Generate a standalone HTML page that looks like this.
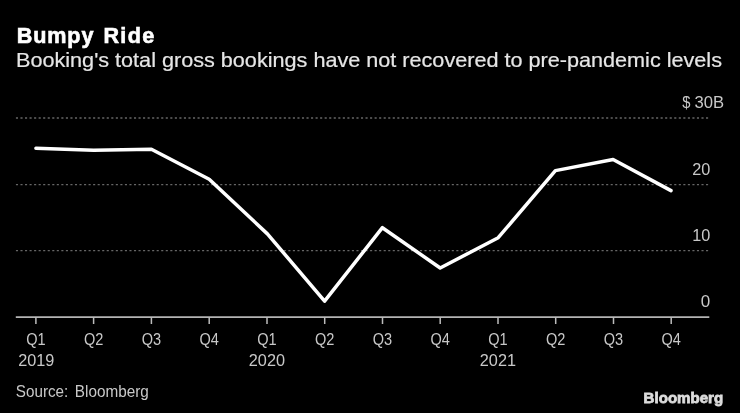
<!DOCTYPE html>
<html><head><meta charset="utf-8">
<style>
html,body{margin:0;padding:0;background:#000;width:740px;height:413px;overflow:hidden}
svg{display:block;will-change:transform}
text{font-family:"Liberation Sans",sans-serif}
</style></head>
<body>
<svg width="740" height="413" viewBox="0 0 740 413">
<rect width="740" height="413" fill="#000"/>
<g font-size="21.6" font-weight="bold" fill="#fff" stroke="#fff" stroke-width="0.6"><text x="16.8" y="42.7" textLength="76.6" lengthAdjust="spacing">Bumpy</text><text x="103.4" y="42.7" textLength="50.8" lengthAdjust="spacing">Ride</text></g>
<text x="16" y="66.9" font-size="20.4" fill="#e6e6e6" stroke="#e6e6e6" stroke-width="0.2" textLength="706" lengthAdjust="spacingAndGlyphs">Booking's total gross bookings have not recovered to pre-pandemic levels</text>
<g stroke="#666" stroke-width="1.4" stroke-dasharray="2.1 2.44">
<line x1="15.93" y1="118" x2="709.5" y2="118"/>
<line x1="15.93" y1="184.6" x2="709.5" y2="184.6"/>
<line x1="15.93" y1="250.6" x2="709.5" y2="250.6"/>
</g>
<g fill="#c8c8c8" font-size="17" text-anchor="end">
<text x="682.2" y="107.8" text-anchor="start" textLength="8.2" lengthAdjust="spacingAndGlyphs">$</text><text x="724" y="107.8" textLength="29.6" lengthAdjust="spacingAndGlyphs">30B</text>
<text x="710.4" y="174.9" textLength="18.1" lengthAdjust="spacingAndGlyphs">20</text>
<text x="710.4" y="240.9" textLength="18.1" lengthAdjust="spacingAndGlyphs">10</text>
<text x="710.2" y="306.9">0</text>
</g>
<line x1="15.8" y1="317.2" x2="709.3" y2="317.2" stroke="#b4b4b4" stroke-width="1.8"/>
<g stroke="#bcbcbc" stroke-width="1.5">
<line x1="35.9" y1="317" x2="35.9" y2="324"/>
<line x1="93.6" y1="317" x2="93.6" y2="324"/>
<line x1="151.4" y1="317" x2="151.4" y2="324"/>
<line x1="209.2" y1="317" x2="209.2" y2="324"/>
<line x1="267.0" y1="317" x2="267.0" y2="324"/>
<line x1="324.7" y1="317" x2="324.7" y2="324"/>
<line x1="382.5" y1="317" x2="382.5" y2="324"/>
<line x1="440.2" y1="317" x2="440.2" y2="324"/>
<line x1="498.0" y1="317" x2="498.0" y2="324"/>
<line x1="555.7" y1="317" x2="555.7" y2="324"/>
<line x1="613.5" y1="317" x2="613.5" y2="324"/>
<line x1="671.2" y1="317" x2="671.2" y2="324"/>
</g>
<g fill="#c8c8c8" font-size="16" text-anchor="middle">
<text x="35.9" y="345" textLength="19.4" lengthAdjust="spacingAndGlyphs">Q1</text>
<text x="93.6" y="345" textLength="19.4" lengthAdjust="spacingAndGlyphs">Q2</text>
<text x="151.4" y="345" textLength="19.4" lengthAdjust="spacingAndGlyphs">Q3</text>
<text x="209.2" y="345" textLength="19.4" lengthAdjust="spacingAndGlyphs">Q4</text>
<text x="267.0" y="345" textLength="19.4" lengthAdjust="spacingAndGlyphs">Q1</text>
<text x="324.7" y="345" textLength="19.4" lengthAdjust="spacingAndGlyphs">Q2</text>
<text x="382.5" y="345" textLength="19.4" lengthAdjust="spacingAndGlyphs">Q3</text>
<text x="440.2" y="345" textLength="19.4" lengthAdjust="spacingAndGlyphs">Q4</text>
<text x="498.0" y="345" textLength="19.4" lengthAdjust="spacingAndGlyphs">Q1</text>
<text x="555.7" y="345" textLength="19.4" lengthAdjust="spacingAndGlyphs">Q2</text>
<text x="613.5" y="345" textLength="19.4" lengthAdjust="spacingAndGlyphs">Q3</text>
<text x="671.2" y="345" textLength="19.4" lengthAdjust="spacingAndGlyphs">Q4</text>
<text x="36.3" y="365.8" font-size="16.6" textLength="36.2" lengthAdjust="spacingAndGlyphs">2019</text>
<text x="266.9" y="365.8" font-size="16.6" textLength="36.2" lengthAdjust="spacingAndGlyphs">2020</text>
<text x="497.9" y="365.8" font-size="16.6" textLength="36.2" lengthAdjust="spacingAndGlyphs">2021</text>
</g>
<polyline fill="none" stroke="#fff" stroke-width="3.5" stroke-linecap="round" stroke-linejoin="round"
 points="35.9,148.2 93.6,150.2 151.4,149.2 209.2,179.2 267.4,233.9 324.6,301.1 382.4,227.7 440.2,268 498.2,237.7 555.4,170.6 613.1,159.5 671,190.6"/>
<g font-size="16.2" fill="#c8c8c8"><text x="15.8" y="397" textLength="52.5" lengthAdjust="spacingAndGlyphs">Source:</text><text x="74.8" y="397" textLength="74" lengthAdjust="spacingAndGlyphs">Bloomberg</text></g>
<text x="643.6" y="402.6" font-size="15.5" font-weight="bold" fill="#dcdcdc" stroke="#dcdcdc" stroke-width="0.8" textLength="79.6" lengthAdjust="spacingAndGlyphs">Bloomberg</text>
</svg>
</body></html>
